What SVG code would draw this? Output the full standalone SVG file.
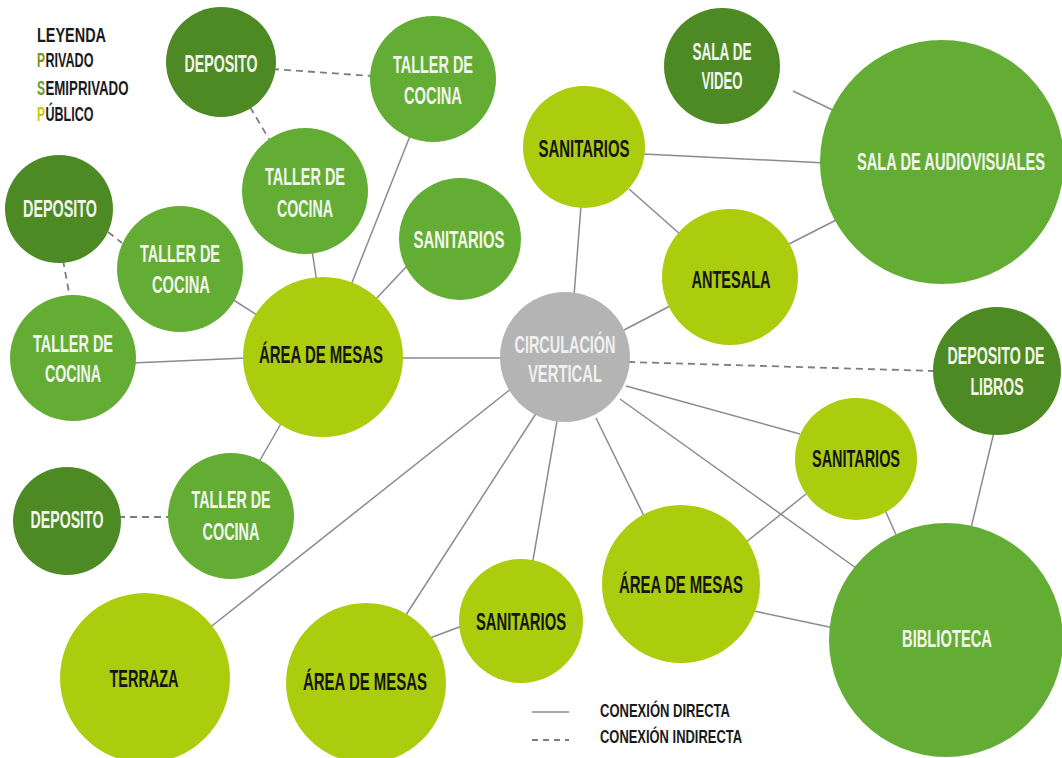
<svg xmlns="http://www.w3.org/2000/svg" width="1062" height="758" viewBox="0 0 1062 758">
<style>
.c{stroke:#8a8a94;stroke-width:1.5;fill:none}
.d{stroke:#7c7c88;stroke-width:1.8;fill:none;stroke-dasharray:7 5}
.dk{fill:#4d8a24}
.md{fill:#64ad35}
.lt{fill:#abcd0e}
.gr{fill:#b4b4b4}
.t{font-family:"Liberation Sans",Arial,sans-serif;font-weight:bold;font-size:24px;text-anchor:middle}
.w{fill:#f3f5ee}
.gw{fill:#f0f0f0}
.k{fill:#151515}
.lg{font-family:"Liberation Sans",Arial,sans-serif;font-weight:bold;font-size:20px;fill:#1a1a1a}
.lg2{font-family:"Liberation Sans",Arial,sans-serif;font-weight:bold;font-size:19px;fill:#1a1a1a}
</style>
<rect width="1062" height="758" fill="#ffffff"/>
<g id="connectors">
<line class="c" x1="410" y1="136" x2="351" y2="285"/>
<line class="c" x1="312" y1="250" x2="317" y2="283"/>
<line class="c" x1="407" y1="266" x2="374" y2="301"/>
<line class="c" x1="232" y1="299" x2="257" y2="315"/>
<line class="c" x1="132" y1="363" x2="246" y2="358"/>
<line class="c" x1="398" y1="358" x2="505" y2="358"/>
<line class="c" x1="259" y1="462" x2="283" y2="420"/>
<line class="c" x1="208" y1="629" x2="512" y2="388"/>
<line class="c" x1="404" y1="618" x2="537" y2="412"/>
<line class="c" x1="532" y1="566" x2="558" y2="415"/>
<line class="c" x1="430" y1="638" x2="462" y2="626"/>
<line class="c" x1="596" y1="418" x2="644" y2="516"/>
<line class="c" x1="626" y1="386" x2="800" y2="434"/>
<line class="c" x1="620" y1="399" x2="856" y2="568"/>
<line class="c" x1="745" y1="543" x2="806" y2="494"/>
<line class="c" x1="754" y1="611" x2="834" y2="628"/>
<line class="c" x1="885" y1="510" x2="897" y2="537"/>
<line class="c" x1="994" y1="432" x2="971" y2="528"/>
<line class="c" x1="581" y1="206" x2="574" y2="296"/>
<line class="c" x1="643" y1="154" x2="826" y2="163"/>
<line class="c" x1="629" y1="189" x2="681" y2="235"/>
<line class="c" x1="670" y1="306" x2="624" y2="330"/>
<line class="c" x1="789" y1="244" x2="846" y2="215"/>
<line class="c" x1="793" y1="91" x2="841" y2="114"/>
<line class="d" x1="272" y1="69" x2="372" y2="76"/>
<line class="d" x1="250" y1="107" x2="269" y2="139"/>
<line class="d" x1="108" y1="232" x2="122" y2="243"/>
<line class="d" x1="63" y1="260" x2="70" y2="298"/>
<line class="d" x1="118" y1="517" x2="170" y2="517"/>
<line class="d" x1="628" y1="362" x2="935" y2="371"/>
</g>
<g id="legend-top">
<g transform="scale(0.6,1)">
<text class="lg" x="61.67" y="42" textLength="115" lengthAdjust="spacingAndGlyphs">LEYENDA</text>
<text class="lg" x="61.67" y="67" fill="#7b9420" style="fill:#7b9420">P</text>
<text class="lg" x="75.83" y="67" textLength="80" lengthAdjust="spacingAndGlyphs">RIVADO</text>
<text class="lg" x="61.67" y="95" style="fill:#5fa02e">S</text>
<text class="lg" x="75.83" y="95" textLength="138.33" lengthAdjust="spacingAndGlyphs">EMIPRIVADO</text>
<text class="lg" x="61.67" y="121" style="fill:#bcd200">P</text>
<text class="lg" x="75.83" y="121" textLength="80" lengthAdjust="spacingAndGlyphs">ÚBLICO</text>
</g>
</g>
<g id="legend-bottom">
<line class="c" x1="532" y1="712" x2="569" y2="712"/>
<line class="d" x1="532" y1="740" x2="569" y2="740" style="stroke-dasharray:6 5"/>
<g transform="scale(0.6,1)">
<text class="lg2" x="1000" y="717" textLength="216.67" lengthAdjust="spacingAndGlyphs">CONEXIÓN DIRECTA</text>
<text class="lg2" x="1000" y="743" textLength="236.67" lengthAdjust="spacingAndGlyphs">CONEXIÓN INDIRECTA</text>
</g>
</g>
<g id="deposito-1"><circle class="dk" cx="221" cy="62" r="55"/><g transform="scale(0.6,1)"><text class="t w" x="368.33" y="72" textLength="121.67" lengthAdjust="spacingAndGlyphs">DEPOSITO</text></g></g>
<g id="taller-1"><circle class="md" cx="433" cy="79" r="63"/><g transform="scale(0.6,1)"><text class="t w" x="721.67" y="73" textLength="133.33" lengthAdjust="spacingAndGlyphs">TALLER DE</text><text class="t w" x="721.67" y="104" textLength="96.67" lengthAdjust="spacingAndGlyphs">COCINA</text></g></g>
<g id="taller-2"><circle class="md" cx="305" cy="191" r="63"/><g transform="scale(0.6,1)"><text class="t w" x="508.33" y="185" textLength="133.33" lengthAdjust="spacingAndGlyphs">TALLER DE</text><text class="t w" x="508.33" y="217" textLength="93.33" lengthAdjust="spacingAndGlyphs">COCINA</text></g></g>
<g id="sanitarios-1"><circle class="md" cx="460" cy="239" r="61"/><g transform="scale(0.6,1)"><text class="t w" x="765" y="248" textLength="151.67" lengthAdjust="spacingAndGlyphs">SANITARIOS</text></g></g>
<g id="deposito-2"><circle class="dk" cx="59" cy="209" r="54"/><g transform="scale(0.6,1)"><text class="t w" x="100" y="217" textLength="123.33" lengthAdjust="spacingAndGlyphs">DEPOSITO</text></g></g>
<g id="taller-3"><circle class="md" cx="180" cy="269" r="63"/><g transform="scale(0.6,1)"><text class="t w" x="300" y="262" textLength="133.33" lengthAdjust="spacingAndGlyphs">TALLER DE</text><text class="t w" x="301.67" y="293" textLength="96.67" lengthAdjust="spacingAndGlyphs">COCINA</text></g></g>
<g id="taller-4"><circle class="md" cx="73" cy="358" r="63"/><g transform="scale(0.6,1)"><text class="t w" x="121.67" y="352" textLength="133.33" lengthAdjust="spacingAndGlyphs">TALLER DE</text><text class="t w" x="121.67" y="382" textLength="93.33" lengthAdjust="spacingAndGlyphs">COCINA</text></g></g>
<g id="area-1"><circle class="lt" cx="323" cy="357" r="80"/><g transform="scale(0.6,1)"><text class="t k" x="535" y="363" textLength="206.67" lengthAdjust="spacingAndGlyphs">ÁREA DE MESAS</text></g></g>
<g id="circulacion"><circle class="gr" cx="565" cy="357" r="65"/><g transform="scale(0.6,1)"><text class="t gw" x="941.67" y="353" textLength="168.33" lengthAdjust="spacingAndGlyphs">CIRCULACIÓN</text><text class="t gw" x="941.67" y="382" textLength="123.33" lengthAdjust="spacingAndGlyphs">VERTICAL</text></g></g>
<g id="sanitarios-2"><circle class="lt" cx="584" cy="147" r="61"/><g transform="scale(0.6,1)"><text class="t k" x="973.33" y="157" textLength="151.67" lengthAdjust="spacingAndGlyphs">SANITARIOS</text></g></g>
<g id="antesala"><circle class="lt" cx="730" cy="277" r="68"/><g transform="scale(0.6,1)"><text class="t k" x="1218.33" y="288" textLength="131.67" lengthAdjust="spacingAndGlyphs">ANTESALA</text></g></g>
<g id="sala-video"><circle class="dk" cx="722" cy="66" r="58"/><g transform="scale(0.6,1)"><text class="t w" x="1203.33" y="60" textLength="98.33" lengthAdjust="spacingAndGlyphs">SALA DE</text><text class="t w" x="1203.33" y="89" textLength="68.33" lengthAdjust="spacingAndGlyphs">VIDEO</text></g></g>
<g id="sala-audiovisuales"><circle class="md" cx="942" cy="162" r="122"/><g transform="scale(0.6,1)"><text class="t w" x="1585" y="170" textLength="313.33" lengthAdjust="spacingAndGlyphs">SALA DE AUDIOVISUALES</text></g></g>
<g id="deposito-libros"><circle class="dk" cx="997" cy="371" r="64"/><g transform="scale(0.6,1)"><text class="t w" x="1660" y="364" textLength="161.67" lengthAdjust="spacingAndGlyphs">DEPOSITO DE</text><text class="t w" x="1661.67" y="395" textLength="88.33" lengthAdjust="spacingAndGlyphs">LIBROS</text></g></g>
<g id="sanitarios-3"><circle class="lt" cx="856" cy="459" r="61"/><g transform="scale(0.6,1)"><text class="t k" x="1426.67" y="467" textLength="146.67" lengthAdjust="spacingAndGlyphs">SANITARIOS</text></g></g>
<g id="biblioteca"><circle class="md" cx="946" cy="640" r="117"/><g transform="scale(0.6,1)"><text class="t w" x="1578.33" y="647" textLength="150" lengthAdjust="spacingAndGlyphs">BIBLIOTECA</text></g></g>
<g id="area-2"><circle class="lt" cx="681" cy="584" r="79"/><g transform="scale(0.6,1)"><text class="t k" x="1135" y="593" textLength="206.67" lengthAdjust="spacingAndGlyphs">ÁREA DE MESAS</text></g></g>
<g id="sanitarios-4"><circle class="lt" cx="521" cy="621" r="62"/><g transform="scale(0.6,1)"><text class="t k" x="868.33" y="630" textLength="150" lengthAdjust="spacingAndGlyphs">SANITARIOS</text></g></g>
<g id="area-3"><circle class="lt" cx="366" cy="683" r="80"/><g transform="scale(0.6,1)"><text class="t k" x="608.33" y="690" textLength="206.67" lengthAdjust="spacingAndGlyphs">ÁREA DE MESAS</text></g></g>
<g id="terraza"><circle class="lt" cx="145" cy="678" r="85"/><g transform="scale(0.6,1)"><text class="t k" x="240" y="687" textLength="115" lengthAdjust="spacingAndGlyphs">TERRAZA</text></g></g>
<g id="taller-5"><circle class="md" cx="231" cy="516" r="63"/><g transform="scale(0.6,1)"><text class="t w" x="385" y="508" textLength="131.67" lengthAdjust="spacingAndGlyphs">TALLER DE</text><text class="t w" x="385" y="540" textLength="95" lengthAdjust="spacingAndGlyphs">COCINA</text></g></g>
<g id="deposito-3"><circle class="dk" cx="67" cy="521" r="54"/><g transform="scale(0.6,1)"><text class="t w" x="111.67" y="528" textLength="121.67" lengthAdjust="spacingAndGlyphs">DEPOSITO</text></g></g>
</svg>
